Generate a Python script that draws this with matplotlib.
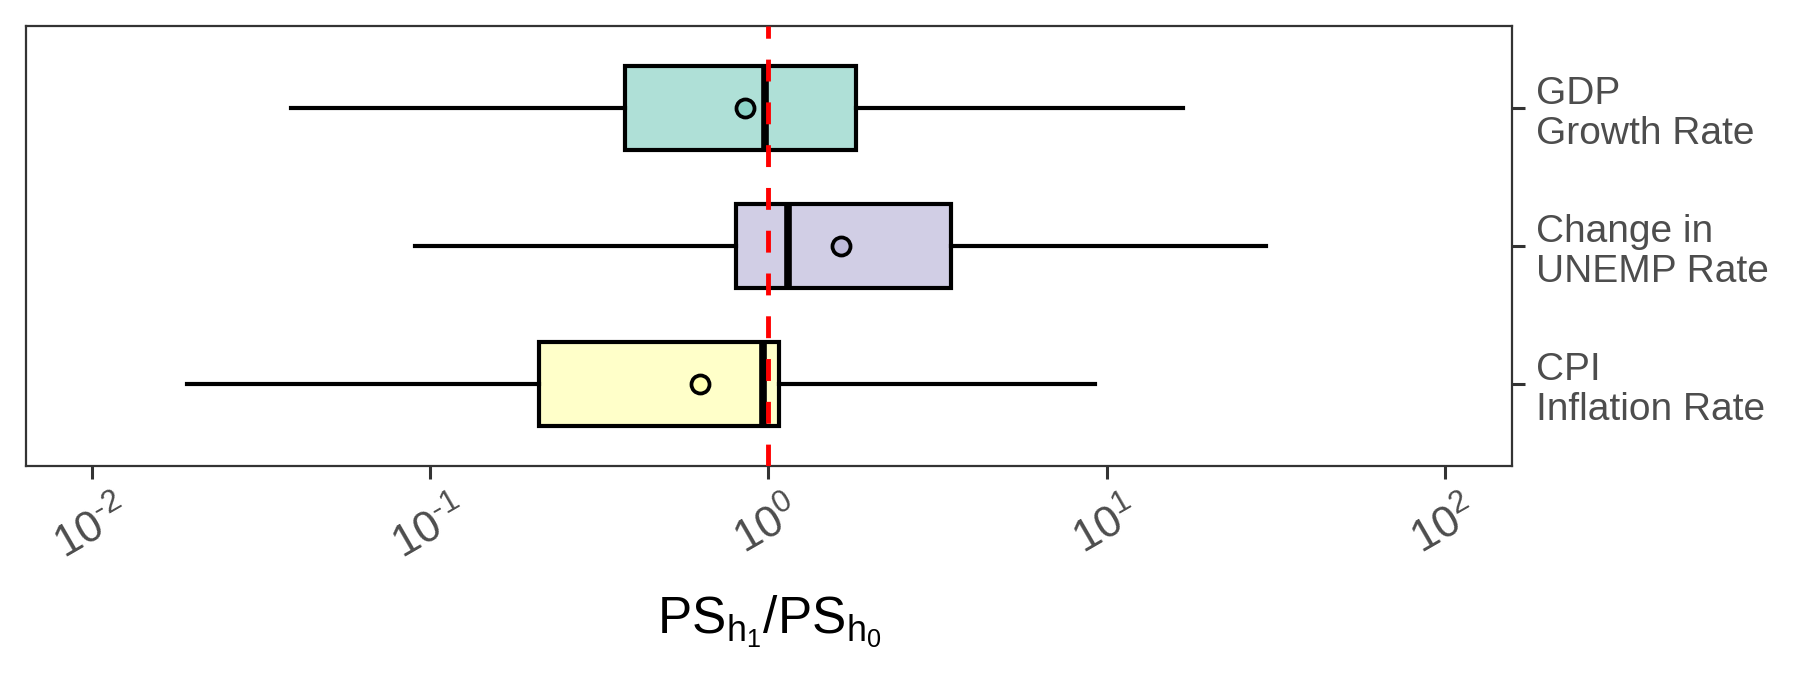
import matplotlib
matplotlib.use("Agg")
import matplotlib.pyplot as plt
import numpy as np

plt.rcParams['font.family'] = ['Liberation Sans', 'DejaVu Sans']
plt.rcParams['mathtext.fontset'] = 'custom'
plt.rcParams['mathtext.rm'] = 'Liberation Sans'
plt.rcParams['mathtext.it'] = 'Liberation Sans:italic'
plt.rcParams['mathtext.bf'] = 'Liberation Sans:bold'

# data (top to bottom)
categories = ["GDP\nGrowth Rate", "Change in\nUNEMP Rate", "CPI\nInflation Rate"]
whisker_low = [0.0387, 0.0904, 0.0191]
q1 = [0.377, 0.80, 0.21]
median = [0.98, 1.14, 0.964]
q3 = [1.81, 3.47, 1.078]
whisker_high = [16.8, 29.6, 9.23]
means = [0.855, 1.64, 0.627]
box_colors = ["#8DD3C7", "#BEBADA", "#FFFFB3"]
tick_values = [1e-2, 1e-1, 1e0, 1e1, 1e2]
tick_labels = [r"$10^{\text{-}2}$", r"$10^{\text{-}1}$", r"$10^{0}$", r"$10^{1}$", r"$10^{2}$"]

fig = plt.figure(figsize=(18, 6.9), dpi=100)
ax = fig.add_axes([0.0144, 0.325, 0.8256, 0.637])

n = len(categories)
positions = [n - i for i in range(n)]  # 3,2,1 top to bottom
stats = []
for i in range(n):
    stats.append(dict(med=median[i], q1=q1[i], q3=q3[i],
                      whislo=whisker_low[i], whishi=whisker_high[i],
                      mean=means[i], fliers=[], label=categories[i]))

bp = ax.bxp(stats, positions=positions, vert=False, widths=0.61,
            patch_artist=True, showmeans=False, showcaps=False,
            boxprops=dict(linewidth=3.0, edgecolor='black'),
            whiskerprops=dict(linewidth=3.0, color='black'),
            medianprops=dict(linewidth=5.5, color='black', solid_capstyle='butt'),
            manage_ticks=False)
for patch, c in zip(bp['boxes'], box_colors):
    patch.set_facecolor(matplotlib.colors.to_rgba(c, 0.7))

for i in range(n):
    ax.plot(means[i], positions[i], marker='o', markersize=13,
            markerfacecolor=box_colors[i], markeredgecolor='black',
            markeredgewidth=2.7, zorder=5, linestyle='none')

ax.axvline(1.0, color='red', linewidth=3.5, linestyle=(0, (4.5, 4.3)), zorder=6)

ax.set_xscale('log')
ax.set_xlim(10**-2.195, 10**2.198)
ax.set_ylim(0.41, 3.59)
ax.set_xticks(tick_values)
ax.set_xticklabels(tick_labels, rotation=30, ha='center', fontsize=32, color='#4D4D4D')
ax.xaxis.set_minor_locator(matplotlib.ticker.NullLocator())
ax.tick_params(axis='x', length=9.5, width=2.2, color='#333333', pad=9)

ax.yaxis.tick_right()
ax.set_yticks(positions)
ax.set_yticklabels(categories, fontsize=28, color='#4D4D4D', linespacing=1.15)
ax.tick_params(axis='y', length=9.5, width=2.2, color='#333333', pad=8)

for s in ax.spines.values():
    s.set_color('#333333')
    s.set_linewidth(1.6)

ax.set_xlabel(r"$\mathrm{PS}_{\mathrm{h}_1}/\mathrm{PS}_{\mathrm{h}_0}$", fontsize=37, color='black', labelpad=18)

fig.savefig("out.png", dpi=100)
